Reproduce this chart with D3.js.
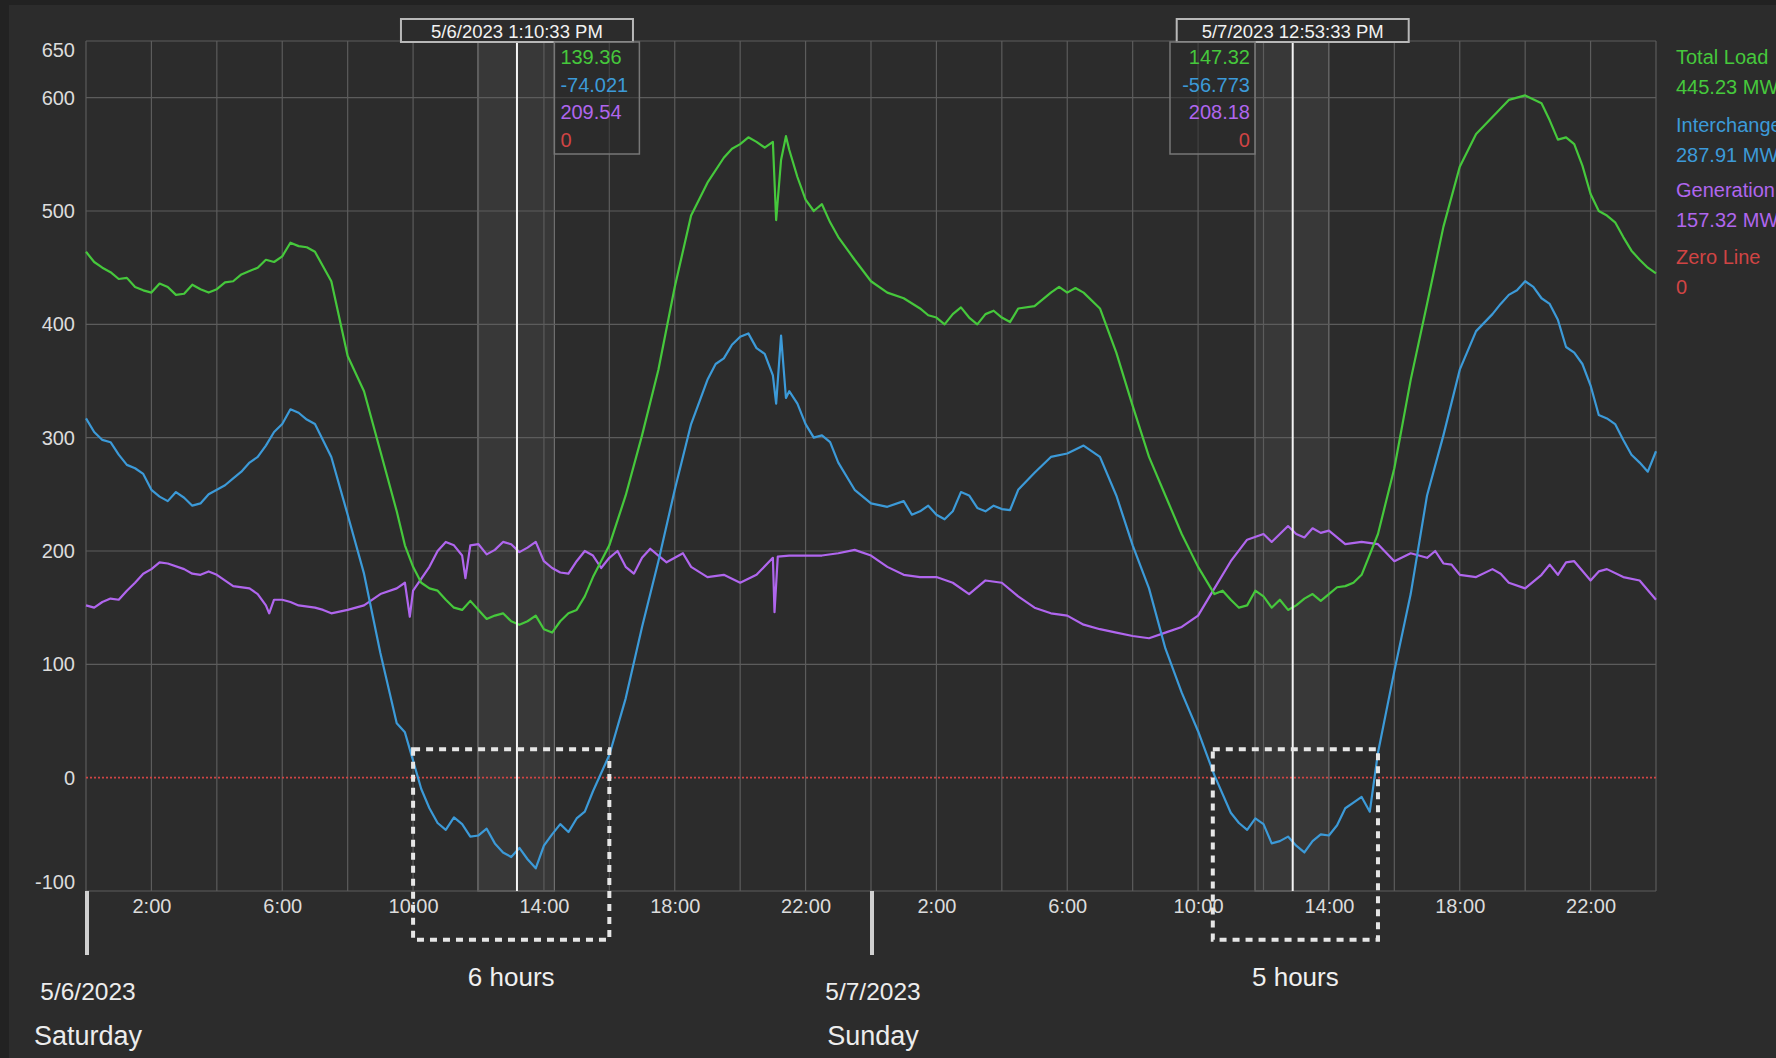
<!DOCTYPE html>
<html>
<head>
<meta charset="utf-8">
<script src="https://cdn.jsdelivr.net/npm/d3@7"></script>
<style>
  body { margin: 0; background: #2c2c2c; overflow: hidden; }
  svg { display: block; font-family: "Liberation Sans", Arial, sans-serif; }
</style>
</head>
<body>
<svg></svg>
<script>
// Lecturas cada 30 minutos, desde 5/6/2023 0:00 hasta 5/8/2023 0:00
const paso = 0.5;

const totalLoad = [
  464, 450, 440, 433, 428, 433, 427, 431,
  431, 438, 447, 457, 460, 469, 464, 438,
  372, 341, 288, 235, 186, 167, 157, 148,
  148, 143, 138, 138, 131, 138, 148, 177,
  205, 249, 302, 360, 433, 496, 525, 547,
  559, 561, 561, 554, 510, 506, 477, 457,
  438, 428, 423, 414, 406, 409, 406, 409,
  406, 414, 416, 428, 428, 428, 414, 375,
  328, 283, 249, 215, 186, 162, 157, 152,
  160, 157, 152, 162, 162, 169, 179, 215,
  273, 351, 418, 486, 539, 568, 583, 598,
  602, 595, 563, 559, 515, 496, 477, 457,
  445
];

const interchange = [
  317, 298, 285, 273, 254, 244, 247, 242,
  254, 264, 278, 293, 312, 322, 312, 283,
  232, 180, 110, 48, 15, -27, -46, -41,
  -51, -58, -70, -72, -60, -41, -36, -12,
  20, 70, 133, 191, 254, 312, 351, 370,
  389, 379, 355, 341, 312, 302, 278, 254,
  242, 239, 244, 235, 232, 235, 249, 235,
  237, 254, 269, 283, 286, 293, 283, 249,
  205, 167, 114, 75, 41, 2, -31, -46,
  -41, -56, -60, -56, -51, -27, -17, 22,
  94, 162, 249, 302, 360, 394, 409, 426,
  438, 423, 404, 375, 346, 317, 298, 278,
  288
];

const generation = [
  152, 155, 157, 172, 184, 189, 184, 179,
  179, 169, 167, 152, 157, 152, 150, 145,
  148, 152, 162, 167, 165, 186, 208, 196,
  206, 201, 206, 203, 191, 181, 191, 196,
  194, 186, 194, 196, 194, 186, 177, 179,
  172, 179, 194, 196, 196, 196, 198, 201,
  196, 186, 179, 177, 177, 172, 162, 174,
  172, 160, 150, 145, 143, 135, 131, 128,
  125, 123, 128, 133, 143, 167, 191, 210,
  215, 215, 215, 220, 218, 206, 208, 206,
  191, 198, 194, 189, 179, 177, 184, 172,
  167, 179, 179, 191, 174, 184, 177, 174,
  157
];

// Lecturas extra entre medias (picos y valles visibles): [hora, valor]
const totalLoadExtra = [
  [0.25, 455], [0.75, 446], [1.25, 441], [1.75, 430], [2.25, 436], [2.75, 426],
  [3.25, 435], [3.75, 428], [4.25, 437], [4.75, 444], [5.25, 450], [5.75, 455],
  [6.25, 472], [6.75, 468], [9.75, 205], [10.25, 172], [10.75, 165], [11.25, 150],
  [11.75, 156], [12.25, 140], [12.75, 145], [13.25, 135], [13.75, 143], [14.25, 128],
  [14.75, 145], [15.25, 160], [19.75, 555], [20.25, 565], [20.75, 556], [21.1, 492],
  [21.25, 545], [21.4, 566], [21.75, 530], [22.25, 500], [22.75, 490], [25.75, 408],
  [26.25, 400], [26.75, 415], [27.25, 400], [27.75, 412], [28.25, 402], [29.25, 422],
  [29.75, 433], [30.25, 432], [34.75, 165], [35.25, 150], [35.75, 165], [36.25, 150],
  [36.75, 148], [37.25, 158], [37.75, 156], [38.25, 168], [38.75, 172], [44.75, 580],
  [45.25, 565], [45.75, 540], [46.25, 500], [46.75, 490], [47.25, 465], [47.75, 450]
];

const interchangeExtra = [
  [0.25, 305], [0.75, 296], [1.25, 276], [1.75, 268], [2.25, 248], [2.75, 252],
  [3.25, 240], [3.75, 250], [4.25, 258], [4.75, 270], [5.25, 283], [5.75, 305],
  [6.25, 325], [6.75, 316], [9.75, 40], [10.25, -10], [10.75, -40], [11.25, -35],
  [11.75, -52], [12.25, -45], [12.75, -66], [13.25, -62], [13.75, -80], [14.25, -50],
  [14.75, -48], [15.25, -30], [19.25, 365], [19.75, 382], [20.25, 392], [20.75, 374],
  [21.1, 330], [21.25, 390], [21.4, 335], [21.75, 330], [22.25, 300], [22.75, 296],
  [25.25, 232], [25.75, 240], [26.25, 228], [26.75, 252], [27.25, 238], [27.75, 240],
  [28.25, 236], [35.25, -40], [35.75, -36], [36.25, -58], [36.75, -52], [37.25, -66],
  [37.75, -50], [38.25, -42], [38.75, -22], [39.25, -30], [43.25, 418], [43.75, 430],
  [44.25, 433], [44.75, 418], [45.25, 380], [45.75, 365], [46.25, 320], [46.75, 312],
  [47.25, 285], [47.75, 270]
];

const generationExtra = [
  [0.25, 150], [0.75, 158], [1.25, 165], [1.75, 180], [2.25, 190], [3.25, 180],
  [3.75, 182], [5.25, 162], [5.6, 145], [5.75, 157], [6.25, 155], [7.25, 148],
  [9.75, 172], [9.9, 142], [10.75, 200], [11.25, 205], [11.6, 176], [11.75, 205],
  [12.25, 197], [12.75, 208], [13.25, 199], [13.75, 208], [14.25, 185], [14.75, 180],
  [15.25, 200], [15.75, 185], [16.25, 200], [16.75, 180], [17.25, 202], [17.75, 190],
  [18.25, 198], [21.05, 146], [21.15, 195], [36.25, 208], [36.75, 222], [37.25, 212],
  [37.75, 216], [41.25, 200], [41.75, 188], [43.25, 180], [44.75, 188], [45.25, 190],
  [46.25, 182]
];

const xTickHours = [2, 6, 10, 14, 18, 22, 26, 30, 34, 38, 42, 46];
const xTickLabels = ["2:00", "6:00", "10:00", "14:00", "18:00", "22:00",
                     "2:00", "6:00", "10:00", "14:00", "18:00", "22:00"];
const yTicks = [650, 600, 500, 400, 300, 200, 100, 0, -100];

const dias = [
  { hora: 0, fecha: "5/6/2023", nombre: "Saturday" },
  { hora: 24, fecha: "5/7/2023", nombre: "Sunday" }
];

const cursores = [
  { hora: 13.176, etiqueta: "5/6/2023 1:10:33 PM", banda: [11.98, 14.32],
    valores: ["139.36", "-74.021", "209.54", "0"] },
  { hora: 36.893, etiqueta: "5/7/2023 12:53:33 PM", banda: [35.74, 37.99],
    valores: ["147.32", "-56.773", "208.18", "0"] }
];

const periodos = [
  { desde: 10, hasta: 16, texto: "6 hours" },
  { desde: 34.45, hasta: 39.5, texto: "5 hours" }
];

const leyendaNombres = ["Total Load", "Interchange", "Generation", "Zero Line"];
const leyendaValores = ["445.23 MW", "287.91 MW", "157.32 MW", "0"];

const colores = ["#46c83c", "#3c9ad8", "#b066ee", "#d04444"];

// Unir lecturas base y extra, ordenadas por hora
function puntos(base, extra) {
  return base.map((v, i) => [i * paso, v]).concat(extra)
    .sort((a, b) => a[0] - b[0]);
}

// Configuración
const W = 1776, H = 1058;
const svg = d3.select("svg").attr("width", W).attr("height", H);

svg.append("rect").attr("width", W).attr("height", H).attr("fill", "#222");
svg.append("rect").attr("x", 9).attr("y", 5).attr("width", W).attr("height", H).attr("fill", "#2c2c2c");

const x = d3.scaleLinear().domain([0, 48]).range([86, 1656]);
const y = d3.scaleLinear().domain([-100, 650]).range([891, 41]);

// bandas de los cursores
cursores.forEach(c => {
  svg.append("rect")
    .attr("x", x(c.banda[0])).attr("y", y(650))
    .attr("width", x(c.banda[1]) - x(c.banda[0]))
    .attr("height", y(-100) - y(650))
    .attr("fill", "#ffffff").attr("fill-opacity", 0.06)
    .attr("stroke", "#707070").attr("stroke-width", 1.2);
});

// rejilla
svg.append("g")
  .selectAll("line")
  .data(d3.range(0, 49, 2))
  .enter().append("line")
  .attr("x1", d => x(d)).attr("x2", d => x(d))
  .attr("y1", y(650)).attr("y2", y(-100))
  .attr("stroke", "#5c5c5c").attr("stroke-width", 1.2);

svg.append("g")
  .selectAll("line")
  .data(yTicks.filter(d => d !== 0))
  .enter().append("line")
  .attr("x1", x(0)).attr("x2", x(48))
  .attr("y1", d => y(d)).attr("y2", d => y(d))
  .attr("stroke", "#5c5c5c").attr("stroke-width", 1.2);

// ejes
const ejeX = svg.append("g")
  .attr("transform", "translate(0," + y(-100) + ")")
  .call(d3.axisBottom(x).tickValues(xTickHours)
    .tickFormat((d, i) => xTickLabels[i]).tickSize(0).tickPadding(8));
ejeX.select(".domain").remove();
ejeX.selectAll("text").attr("font-size", 20).attr("fill", "#dcdcdc")
  .attr("font-family", "Liberation Sans, Arial, sans-serif");

const ejeY = svg.append("g")
  .attr("transform", "translate(" + x(0) + ",0)")
  .call(d3.axisLeft(y).tickValues(yTicks).tickFormat(d => String(d))
    .tickSize(0).tickPadding(11));
ejeY.select(".domain").remove();
ejeY.selectAll("text").attr("font-size", 20).attr("fill", "#dcdcdc")
  .attr("font-family", "Liberation Sans, Arial, sans-serif")
  .attr("y", d => d === 650 ? 9 : d === -100 ? -9 : 0);

// línea cero
svg.append("line")
  .attr("x1", x(0)).attr("x2", x(48))
  .attr("y1", y(0)).attr("y2", y(0))
  .attr("stroke", colores[3]).attr("stroke-width", 1.8)
  .attr("stroke-dasharray", "2,2");

// series
const linea = d3.line().x(d => x(d[0])).y(d => y(d[1]));
[[generation, generationExtra, colores[2]],
 [interchange, interchangeExtra, colores[1]],
 [totalLoad, totalLoadExtra, colores[0]]].forEach(s => {
  svg.append("path")
    .datum(puntos(s[0], s[1]))
    .attr("fill", "none")
    .attr("stroke", s[2])
    .attr("stroke-width", 2.2)
    .attr("stroke-linejoin", "round")
    .attr("d", linea);
});

// cursores
cursores.forEach((c, n) => {
  const cx = x(c.hora);
  svg.append("line")
    .attr("x1", cx).attr("x2", cx).attr("y1", 42).attr("y2", y(-100))
    .attr("stroke", "#f4f4f4").attr("stroke-width", 2);

  svg.append("rect")
    .attr("x", cx - 116).attr("y", 19).attr("width", 232).attr("height", 23)
    .attr("fill", "#2c2c2c").attr("stroke", "#b8b8b8").attr("stroke-width", 2);
  svg.append("text")
    .attr("x", cx).attr("y", 31).attr("text-anchor", "middle")
    .attr("dominant-baseline", "central")
    .attr("font-size", 18.5).attr("fill", "#f2f2f2")
    .text(c.etiqueta);

  const derecha = n === 0;
  const bx = derecha ? x(c.banda[1]) : x(c.banda[0]) - 85;
  svg.append("rect")
    .attr("x", bx).attr("y", 42).attr("width", 85).attr("height", 112)
    .attr("fill", "#2c2c2c").attr("fill-opacity", 0.55)
    .attr("stroke", "#777").attr("stroke-width", 1.5);
  c.valores.forEach((v, i) => {
    svg.append("text")
      .attr("x", derecha ? bx + 6 : bx + 80)
      .attr("y", 57 + i * 27.7)
      .attr("text-anchor", derecha ? "start" : "end")
      .attr("dominant-baseline", "central")
      .attr("font-size", 20).attr("fill", colores[i])
      .text(v);
  });
});

// cajas punteadas de horas negativas
periodos.forEach(p => {
  svg.append("rect")
    .attr("x", x(p.desde)).attr("y", y(25))
    .attr("width", x(p.hasta) - x(p.desde))
    .attr("height", y(-143) - y(25))
    .attr("fill", "none").attr("stroke", "#e6e6e6")
    .attr("stroke-width", 4).attr("stroke-dasharray", "7,6");
  svg.append("text")
    .attr("x", (x(p.desde) + x(p.hasta)) / 2).attr("y", 977)
    .attr("text-anchor", "middle").attr("dominant-baseline", "central")
    .attr("font-size", 26).attr("fill", "#f0f0f0")
    .text(p.texto);
});

// separadores de días
dias.forEach(d => {
  svg.append("line")
    .attr("x1", x(d.hora) + 1).attr("x2", x(d.hora) + 1)
    .attr("y1", y(-100)).attr("y2", 955)
    .attr("stroke", "#d0d0d0").attr("stroke-width", 4);
  svg.append("text")
    .attr("x", x(d.hora) + 2).attr("y", 991)
    .attr("text-anchor", "middle").attr("dominant-baseline", "central")
    .attr("font-size", 24.5).attr("fill", "#ececec").text(d.fecha);
  svg.append("text")
    .attr("x", x(d.hora) + 2).attr("y", 1036)
    .attr("text-anchor", "middle").attr("dominant-baseline", "central")
    .attr("font-size", 27).attr("fill", "#ececec").text(d.nombre);
});

// leyenda
leyendaNombres.forEach((nombre, i) => {
  const y0 = [57, 125, 190, 257][i];
  svg.append("text")
    .attr("x", 1676).attr("y", y0).attr("dominant-baseline", "central")
    .attr("font-size", 20).attr("fill", colores[i]).text(nombre);
  svg.append("text")
    .attr("x", 1676).attr("y", y0 + 30).attr("dominant-baseline", "central")
    .attr("font-size", 20).attr("fill", colores[i]).text(leyendaValores[i]);
});
</script>
</body>
</html>
